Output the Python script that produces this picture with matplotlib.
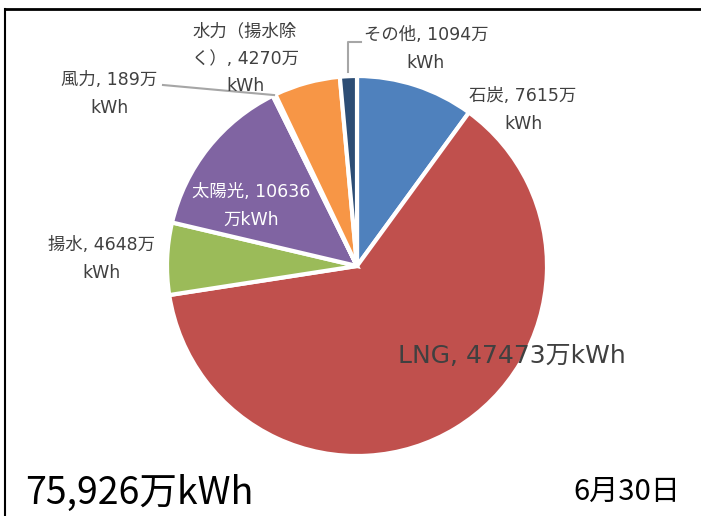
import matplotlib.pyplot as plt
from matplotlib.lines import Line2D
import numpy as np

plt.rcParams['font.family'] = ['DejaVu Sans', 'Noto Sans CJK JP']

# data (万kWh), clockwise from 12 o'clock
sources = ['石炭', 'LNG', '揚水', '太陽光', '風力', '水力（揚水除く）', 'その他']
values = [7615, 47473, 4648, 10636, 189, 4270, 1094]
colors = ['#4F81BD', '#C0504D', '#9BBB59', '#8064A2', '#4BACC6', '#F79646', '#2C4D75']
total_label = '75,926万kWh'
date_label = '6月30日'

W, H = 701, 516
cx, cy, R = 357, 266, 190

fig = plt.figure(figsize=(W / 100, H / 100), dpi=100)
ax = fig.add_axes([0, 0, 1, 1])

wedges, _ = ax.pie(values, colors=colors, startangle=90, counterclock=False,
                   wedgeprops=dict(edgecolor='white', linewidth=3))
ax.set_aspect('auto')
ax.set_xlim(-cx / R, (W - cx) / R)
ax.set_ylim(-(H - cy) / R, cy / R)
ax.axis('off')


def px(x, y):
    # pixel position -> data coordinates
    return (x - cx) / R, (cy - y) / R


def edge_point(w, r=1.0):
    a = np.deg2rad((w.theta1 + w.theta2) / 2)
    return r * np.cos(a), r * np.sin(a)


grey = '#404040'
fs = 12.5
lines = dict(ha='center', va='center', fontsize=fs, color=grey, linespacing=1.66)

ax.text(*px(523, 110), '石炭, 7615万\nkWh', **lines)
ax.text(*px(512, 356), 'LNG, 47473万kWh', ha='center', va='center', fontsize=18, color=grey)
ax.text(*px(102, 259), '揚水, 4648万\nkWh', **lines)
ax.text(*px(251, 206), '太陽光, 10636\n万kWh', ha='center', va='center', fontsize=fs,
        color='white', linespacing=1.66)
ax.text(*px(109, 94), '風力, 189万\nkWh', **lines)
ax.text(*px(245, 59), '水力（揚水除\nく）, 4270万\nkWh', **lines)
ax.text(*px(426, 49), 'その他, 1094万\nkWh', **lines)

# leader lines
lc = '#A6A6A6'
wx, wy = edge_point(wedges[4])
sx, sy = px(163, 85)
ax.plot([sx, wx], [sy, wy], color=lc, lw=1.5)
ox, oy = edge_point(wedges[6], 1.02)
tx, ty = px(361, 42)
ax.plot([ox, ox, tx], [oy, ty, ty], color=lc, lw=1.5)

big = ['Noto Sans CJK JP']
fig.text(25 / W, 1 - 493 / H, total_label, ha='left', va='center', fontsize=27,
         color='black', family=big)
fig.text(680 / W, 1 - 492 / H, date_label, ha='right', va='center', fontsize=21,
         color='black', family=big)

# frame (top and left)
fig.add_artist(Line2D([5 / W, 1], [1 - 8.5 / H, 1 - 8.5 / H], color='black', lw=2))
fig.add_artist(Line2D([5 / W, 5 / W], [0, 1 - 8.5 / H], color='black', lw=1.5))

fig.savefig('out.png', dpi=100)
